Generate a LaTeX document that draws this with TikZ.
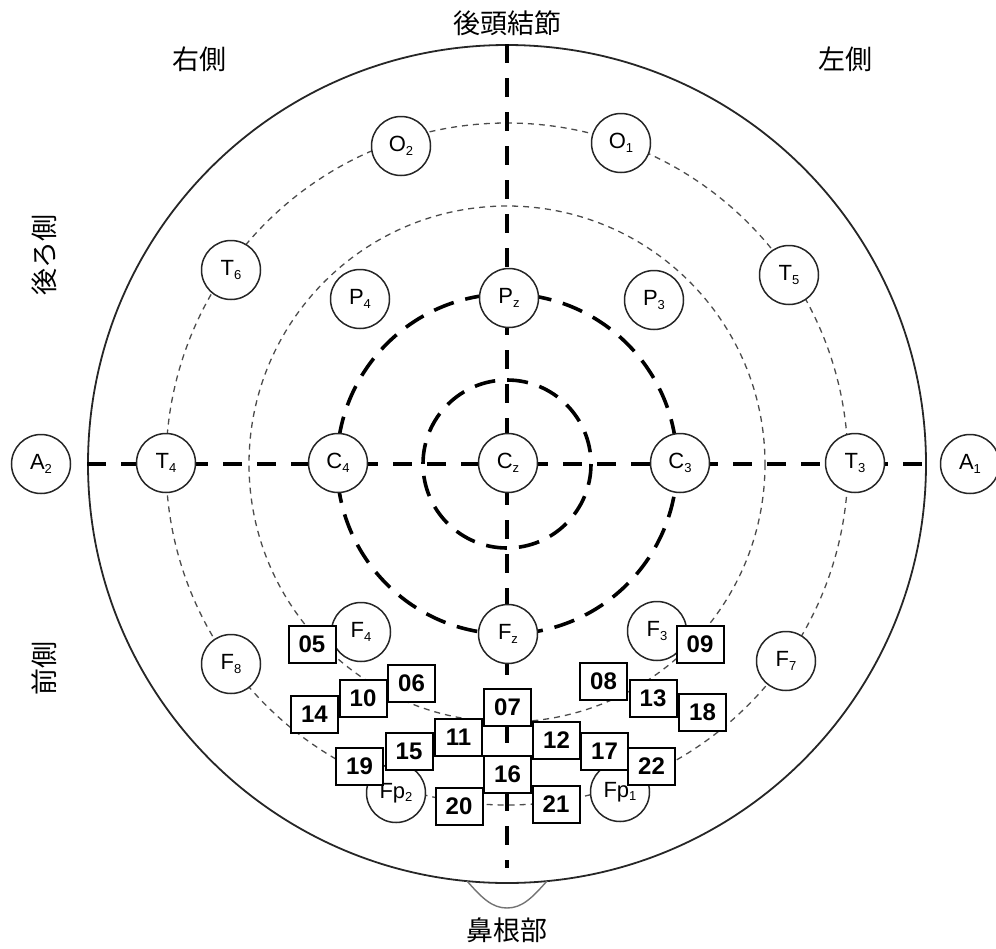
\documentclass[tikz,border=0pt]{standalone}
\usepackage{fontspec}
\setmainfont{Liberation Sans}
\newfontfamily\cjk{Noto Sans CJK JP}
\newcommand{\elab}[2]{{\fontsize{22}{22}\selectfont #1}\raisebox{-3.5pt}{\fontsize{13}{13}\selectfont #2}}
\tikzset{
  el/.style={circle, draw=black!85, line width=1.5pt, fill=white, minimum size=59pt, inner sep=0pt},
  nbox/.style={draw=black, line width=2pt, fill=white, minimum width=47pt, minimum height=37pt, inner sep=0pt, font=\fontsize{24}{24}\selectfont\bfseries},
  thindash/.style={black!70, line width=1.3pt, dash pattern=on 6pt off 5pt},
  thickdash/.style={black, line width=3.6pt, dash pattern=on 21pt off 12pt},
  axisline/.style={black, line width=3.6pt, dash pattern=on 19pt off 15pt},
  jp/.style={font=\cjk\fontsize{27}{27}\selectfont, inner sep=0pt},
}
\begin{document}
\begin{tikzpicture}[x=1pt,y=-1pt]
\useasboundingbox (0,0) rectangle (996,948);
\coordinate (c) at (507,464);
% head outline
\node[circle, draw=black!85, line width=1.8pt, minimum size=838pt, inner sep=0pt] (head) at (c) {};
\draw[black!55, line width=1.4pt] (467,881) .. controls (482,898) and (492,908) .. (507,908) .. controls (522,908) and (532,898) .. (547,881);
% rings
\draw[thindash] (c) circle (341);
\draw[thindash] (c) circle (258);
\draw[thickdash] (c) circle (170);
\draw[thickdash] (c) circle (84);
% axes
\coordinate (vbot) at (507,868);
\draw[axisline] (head.north) -- (vbot);
\draw[axisline] (head.west) -- (head.east);
% electrodes
\node[el] (O2) at (401,146) {\elab{O}{2}};
\node[el] (O1) at (621,143) {\elab{O}{1}};
\node[el] (T6) at (231,270) {\elab{T}{6}};
\node[el] (T5) at (789,275) {\elab{T}{5}};
\node[el] (P4) at (360,299) {\elab{P}{4}};
\node[el] (Pz) at (509,298) {\elab{P}{z}};
\node[el] (P3) at (654,300) {\elab{P}{3}};
\node[el] (A2) at (41,464) {\elab{A}{2}};
\node[el] (T4) at (166,463) {\elab{T}{4}};
\node[el] (C4) at (338,463) {\elab{C}{4}};
\node[el] (Cz) at (508,463) {\elab{C}{z}};
\node[el] (C3) at (680,463) {\elab{C}{3}};
\node[el] (T3) at (855,463) {\elab{T}{3}};
\node[el] (A1) at (970,464) {\elab{A}{1}};
\node[el] (F8) at (231,664) {\elab{F}{8}};
\node[el] (F4) at (361,632) {\elab{F}{4}};
\node[el] (Fz) at (508,634) {\elab{F}{z}};
\node[el] (F3) at (657,631) {\elab{F}{3}};
\node[el] (F7) at (786,661) {\elab{F}{7}};
\node[el] (Fp2) at (396,793) {\elab{Fp}{2}};
\node[el] (Fp1) at (620,792) {\elab{Fp}{1}};
% numbered boxes
\node[nbox] (b05) at (312,644) {05};
\node[nbox] (b06) at (411.5,683) {06};
\node[nbox] (b10) at (363,698.5) {10};
\node[nbox] (b14) at (314.5,714) {14};
\node[nbox] (b11) at (458.5,737.5) {11};
\node[nbox] (b15) at (409,751) {15};
\node[nbox] (b19) at (359.5,766) {19};
\node[nbox] (b20) at (459,806) {20};
\node[nbox] (b07) at (507.5,707) {07};
\node[nbox] (b12) at (556.5,740.5) {12};
\node[nbox] (b17) at (604.5,751) {17};
\node[nbox] (b22) at (651.5,766.5) {22};
\node[nbox] (b16) at (507.5,774) {16};
\node[nbox] (b21) at (556,804.5) {21};
\node[nbox] (b08) at (603.5,681) {08};
\node[nbox] (b13) at (653,698.5) {13};
\node[nbox] (b18) at (702.5,712) {18};
\node[nbox] (b09) at (700,644.5) {09};
% labels
\node[jp] (occ) at (507,23) {後頭結節};
\node[jp] (right) at (199,59) {右側};
\node[jp] (left) at (845,59) {左側};
\node[jp, rotate=90] (back) at (44,255) {後ろ側};
\node[jp, rotate=90] (front) at (44,668) {前側};
\node[jp] (nasion) at (507,930) {鼻根部};
\end{tikzpicture}
\end{document}
